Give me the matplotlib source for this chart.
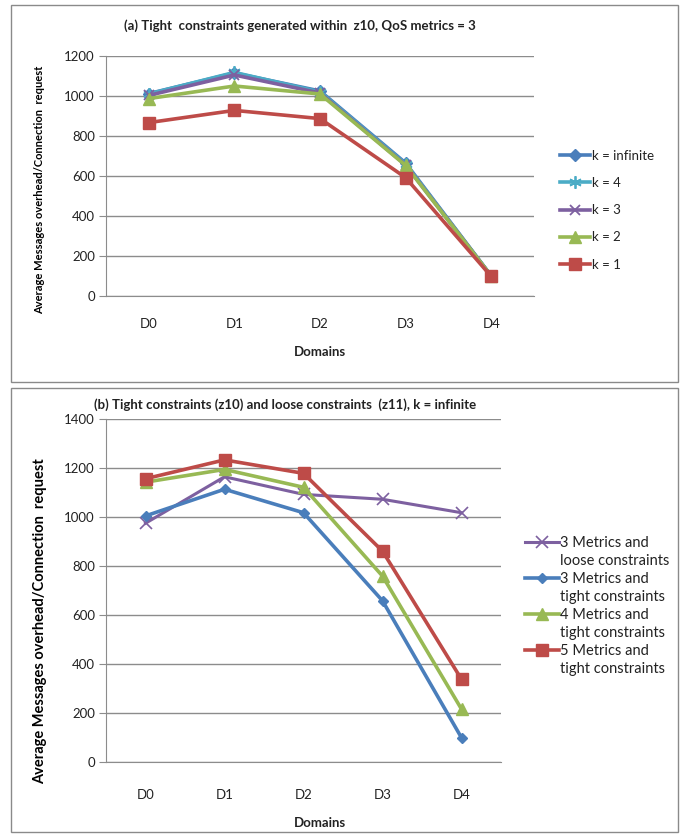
import matplotlib
matplotlib.use("Agg")
from matplotlib import pyplot as plt
from matplotlib.lines import Line2D
from matplotlib.patches import Rectangle

plt.rcParams["font.family"] = ["Lato", "DejaVu Sans"]

W, H = 683, 834

domains = ["D0", "D1", "D2", "D3", "D4"]

# (a) tight constraints, QoS metrics = 3
k_inf = [1012, 1115, 1025, 665, 100]
k_4 = [1010, 1118, 1020, 660, 100]
k_3 = [1003, 1105, 1015, 655, 100]
k_2 = [987, 1050, 1010, 653, 100]
k_1 = [867, 928, 887, 592, 98]

# (b) tight vs loose constraints, k = infinite
loose_3 = [975, 1165, 1093, 1073, 1018]
tight_3 = [1005, 1114, 1018, 658, 98]
tight_4 = [1143, 1195, 1122, 759, 215]
tight_5 = [1157, 1234, 1179, 861, 337]

BLUE = "#4a7ebb"
CYAN = "#4bacc6"
PURPLE = "#7d60a0"
GREEN = "#98b954"
RED = "#be4b48"
GRID = "#8c8c8c"
TXT = "#222222"
YLAB = "Average Messages overhead/Connection  request"


def fx(px):
    return px / W


def fy(py):
    return 1 - py / H


def style_axes(ax, ymax):
    ax.set_xlim(-0.5, 4.5)
    ax.set_ylim(0, ymax)
    ax.set_yticks(range(0, ymax + 1, 200))
    ax.set_xticks(range(5))
    ax.set_xticklabels(domains)
    ax.grid(axis="y", color=GRID, linewidth=1)
    ax.set_axisbelow(True)
    for s in ["top", "right"]:
        ax.spines[s].set_visible(False)
    ax.spines["left"].set_color(GRID)
    ax.spines["bottom"].set_color(GRID)
    ax.tick_params(axis="y", length=5, color=GRID, labelsize=9.5, labelcolor=TXT, pad=3)
    ax.tick_params(axis="x", length=0, labelsize=9.5, labelcolor=TXT)


fig = plt.figure(figsize=(W / 100, H / 100), dpi=100)

# panel frames
fig.add_artist(Rectangle((fx(11), fy(382)), fx(667), 377 / H, transform=fig.transFigure,
                         fill=False, edgecolor="#8a8a8a", linewidth=1))
fig.add_artist(Rectangle((fx(11), fy(832)), fx(667), 444 / H, transform=fig.transFigure,
                         fill=False, edgecolor="#8a8a8a", linewidth=1))

# ---- (a)
ax1 = fig.add_axes([fx(106), fy(296), fx(428), 240 / H])
x = range(5)
ax1.plot(x, k_inf, color=BLUE, lw=2.6, marker="D", ms=6, label="k = infinite")
ax1.plot(x, k_4, color=CYAN, lw=2.6, marker=(6, 2, 0), ms=9, mew=1.3, label="k = 4")
ax1.plot(x, k_3, color=PURPLE, lw=2.6, marker="x", ms=7, mew=1.3, label="k = 3")
ax1.plot(x, k_2, color=GREEN, lw=2.6, marker="^", ms=8, label="k = 2")
ax1.plot(x, k_1, color=RED, lw=2.6, marker="s", ms=8, label="k = 1")
style_axes(ax1, 1200)
ax1.tick_params(axis="x", pad=16)
fig.text(fx(320), fy(352), "Domains", ha="center", va="center", fontsize=9.5,
         fontweight="bold", color=TXT)
fig.text(fx(40), fy(190), YLAB, rotation=90, ha="center", va="center", fontsize=8,
         fontweight="bold", color="black")
fig.text(fx(300), fy(26), "(a) Tight  constraints generated within  z10, QoS metrics = 3",
         ha="center", va="center", fontsize=9.5, fontweight="bold", color=TXT)
ax1.legend(loc="upper left", bbox_to_anchor=(fx(548), fy(138)), bbox_transform=fig.transFigure,
           frameon=False, fontsize=9.5, handlelength=2.3, handletextpad=0.1,
           labelspacing=1.15, labelcolor=TXT)

# ---- (b)
ax2 = fig.add_axes([fx(106), fy(761.7), fx(395), 342.4 / H])
l_loose3, = ax2.plot(x, loose_3, color=PURPLE, lw=2.2, marker="x", ms=8, mew=1.2)
l_tight3, = ax2.plot(x, tight_3, color=BLUE, lw=2.6, marker="D", ms=5.5)
l_tight4, = ax2.plot(x, tight_4, color=GREEN, lw=2.6, marker="^", ms=8)
l_tight5, = ax2.plot(x, tight_5, color=RED, lw=2.6, marker="s", ms=9)
style_axes(ax2, 1400)
ax2.tick_params(axis="x", pad=20)
fig.text(fx(320), fy(823), "Domains", ha="center", va="center", fontsize=9.5,
         fontweight="bold", color=TXT)
fig.text(fx(40), fy(621), YLAB, rotation=90, ha="center", va="center", fontsize=10.5,
         fontweight="bold", color="black")
fig.text(fx(285), fy(405), "(b) Tight constraints (z10) and loose constraints  (z11), k = infinite",
         ha="center", va="center", fontsize=9.5, fontweight="bold", color=TXT)

# legend rows: handle beside first line of each two-line label
blank = Line2D([], [], color="none")
handles = [l_loose3, blank, l_tight3, blank, l_tight4, blank, l_tight5, blank]
labels = ["3 Metrics and", "loose constraints", "3 Metrics and", "tight constraints",
          "4 Metrics and", "tight constraints", "5 Metrics and", "tight constraints"]
ax2.legend(handles, labels, loc="upper left", bbox_to_anchor=(fx(512), fy(523)),
           bbox_transform=fig.transFigure, frameon=False, fontsize=10.5,
           handlelength=2.3, handletextpad=0.1, labelspacing=0.27, labelcolor=TXT)

fig.savefig("out.png", dpi=100)
